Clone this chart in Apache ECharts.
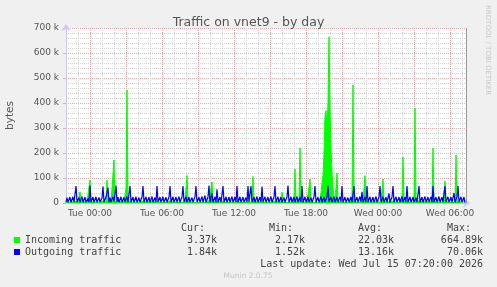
<!DOCTYPE html>
<html><head><meta charset="utf-8">
<script src="https://cdn.jsdelivr.net/npm/echarts@6/dist/echarts.min.js"></script>
<style>html,body{margin:0;padding:0;background:#f0f0f0}#c{width:497px;height:287px}</style>
</head><body><div id="c"></div>
<script>
// time axis: hours relative to Tue 00:00, one sample every 5 minutes starting Mon 22:00
const startHour = -2;
const endHour = 31 + 1/3;          // Wed 07:20 (last update)
const samplesPerHour = 12;
const xLabelHours = [0, 6, 12, 18, 24, 30];
const xLabels = ['Tue 00:00', 'Tue 06:00', 'Tue 12:00', 'Tue 18:00', 'Wed 00:00', 'Wed 06:00'];
const yMaxK = 700;
const seriesNames = ['Incoming traffic', 'Outgoing traffic'];
const statHeaders = ['Cur:', 'Min:', 'Avg:', 'Max:'];
const incomingStats = ['3.37k', '2.17k', '22.03k', '664.89k'];
const outgoingStats = ['1.84k', '1.52k', '13.16k', '70.06k'];
const lastUpdate = 'Last update: Wed Jul 15 07:20:00 2026';

// values in k (thousands of bytes), one per 5-minute sample
const incomingK = [
3,4,3,3,5,3,4,3,3,6,8,3,4,3,45,4,3,3,5,3,
4,3,3,5,92,4,3,3,4,3,5,3,3,4,3,3,5,8,3,4,
3,92,6,3,4,3,3,5,172,6,3,3,4,3,3,5,3,4,3,3,
60,452,8,3,5,3,4,3,3,4,3,3,5,3,3,4,3,8,3,3,
4,3,3,5,3,3,4,3,3,5,3,8,3,4,3,3,5,3,3,4,
3,3,5,3,8,3,4,3,3,5,3,3,4,3,3,5,3,8,3,4,
12,110,6,3,4,3,3,5,3,3,8,3,4,3,3,5,3,3,4,3,
3,5,3,8,3,4,84,6,3,3,5,3,3,4,3,3,5,8,3,3,
4,3,3,5,3,3,4,3,3,5,3,8,3,4,3,3,5,3,3,4,
3,3,8,3,4,8,3,106,6,3,3,5,3,3,4,3,8,3,3,5,
3,3,4,3,3,5,3,3,4,8,3,3,5,3,3,4,44,3,3,5,
3,3,8,3,4,3,3,5,20,136,6,3,4,3,220,8,10,3,3,4,
3,5,3,3,96,6,3,4,3,8,3,3,5,3,3,40,80,110,200,350,
370,300,400,665,380,220,120,60,20,5,3,120,6,3,4,3,8,3,3,5,
3,3,4,3,3,5,20,472,8,3,4,3,3,5,3,3,4,3,3,110,
6,8,3,4,3,3,5,3,3,4,3,3,5,3,8,3,3,96,5,3,
3,4,3,3,5,3,3,8,3,4,3,3,5,3,3,4,20,184,6,3,
3,8,3,4,3,3,5,3,30,380,10,3,4,8,3,3,5,3,3,4,
3,3,5,3,3,4,20,220,8,3,4,3,3,5,3,3,4,3,3,88,
6,3,4,3,3,5,3,3,4,3,192,8,8,3,4,3,3,5,3,3.37
];
const outgoingK = [
3,22,3,5,24,3,4,25,3,5,68,4,3,22,3,5,26,3,4,24,
3,3,18,4,70,3,5,24,3,4,25,3,3,22,4,3,20,66,4,3,
24,30,62,3,22,4,3,25,5,3,70,4,24,3,4,25,3,3,23,4,
3,26,3,5,68,3,4,24,3,5,25,3,4,22,3,3,24,68,4,3,
25,3,4,24,3,5,26,3,4,22,3,68,4,3,24,3,5,25,3,4,
23,3,4,24,68,3,4,25,3,5,24,3,4,26,3,3,24,68,4,3,
25,3,5,24,3,4,22,3,3,25,68,4,3,24,3,5,26,3,4,30,
3,4,24,70,3,5,40,3,4,25,3,55,3,5,24,3,4,68,3,4,
25,3,5,24,3,4,26,3,3,24,4,68,3,5,25,3,4,24,3,5,
22,3,68,4,3,68,4,3,24,3,5,26,3,4,24,3,66,4,3,25,
3,5,24,3,4,26,3,3,24,68,4,3,25,3,5,24,3,4,22,3,
3,24,70,3,4,25,3,5,24,3,4,26,3,3,24,4,68,3,5,25,
3,4,24,3,5,22,3,4,25,68,3,4,24,3,5,26,3,4,24,3,
3,25,70,4,3,24,3,5,26,3,4,24,3,3,25,4,68,3,5,24,
3,4,22,3,5,25,3,4,68,3,5,24,3,4,26,3,45,3,4,24,
3,68,4,3,25,3,5,24,3,4,26,3,3,24,68,4,3,25,3,5,
24,3,4,38,3,3,24,68,4,3,25,3,5,24,3,4,26,3,3,24,
4,68,3,5,25,3,4,24,3,5,22,3,4,68,3,5,24,3,4,26,
3,3,24,4,3,25,3,68,4,3,24,3,5,26,3,4,24,3,3,68,
4,3,25,3,5,24,3,4,40,3,3,24,68,4,3,25,3,5,24,1.84
];

const GREEN = '#00ff00', BLUE = '#0000ff';
const GRID = '#d2d2d2', MGRID = '#eeaaaa', AXIS = '#c8c8ff';
const SANS = '"DejaVu Sans", sans-serif', MONO = '"DejaVu Sans Mono", monospace';

const toPairs = arr => arr.map((v, i) => [startHour + i / samplesPerHour, v]);

const chart = echarts.init(document.getElementById('c'), null, {renderer: 'canvas'});

const statCols = [181, 269, 358, 447];
const valRight = [217, 305, 394, 483];
const graphic = [];
statHeaders.forEach((h, k) => graphic.push({type: 'text', x: statCols[k], y: 228,
  style: {text: h, font: '10px ' + MONO, fill: '#444', align: 'left', verticalAlign: 'middle'}}));
[incomingStats, outgoingStats].forEach((row, r) => row.forEach((s, k) => graphic.push({
  type: 'text', x: valRight[k], y: 240 + r * 12,
  style: {text: s, font: '10px ' + MONO, fill: '#444', align: 'right', verticalAlign: 'middle'}})));
graphic.push({type: 'text', x: 483, y: 264, style: {text: lastUpdate, font: '10px ' + MONO, fill: '#444', align: 'right', verticalAlign: 'middle'}});
graphic.push({type: 'text', x: 248, y: 276, style: {text: 'Munin 2.0.75', font: '7.5px ' + SANS, fill: '#c4c4c4', align: 'center', verticalAlign: 'middle'}});
graphic.push({type: 'text', x: 488, y: 5, rotation: -Math.PI / 2,
  style: {text: 'RRDTOOL / TOBI OETIKER', font: '7px ' + SANS, fill: '#c8c8c8', align: 'left', verticalAlign: 'middle'}});

chart.setOption({
  animation: false,
  backgroundColor: '#f0f0f0',
  title: {text: 'Traffic on vnet9 - by day', left: 'center', top: 11,
    textStyle: {fontFamily: SANS, fontSize: 12.5, fontWeight: 'normal', color: '#555'}},
  grid: {left: 66, right: 31, top: 28, bottom: 84, show: true, backgroundColor: '#ffffff', borderWidth: 0,
    containLabel: false, outerBoundsMode: 'none'},
  legend: {left: 14, top: 234, orient: 'vertical', itemWidth: 6, itemHeight: 6, itemGap: 0, icon: 'rect', padding: 0,
    data: seriesNames, selectedMode: false,
    textStyle: {fontFamily: MONO, fontSize: 10, color: '#444', lineHeight: 12}},
  xAxis: {
    type: 'value', min: startHour, max: endHour, interval: 1,
    axisLine: {show: true, onZero: false, lineStyle: {color: AXIS}, symbol: ['none', 'arrow'], symbolSize: [7, 7], symbolOffset: [0, 4]},
    axisTick: {show: false},
    axisLabel: {margin: 6, fontFamily: SANS, fontSize: 9, color: '#555', hideOverlap: false,
      formatter: v => { const k = xLabelHours.indexOf(Math.round(v * 1000) / 1000); return k >= 0 ? xLabels[k] : ''; }},
    splitLine: {show: true, showMinLine: true, lineStyle: {type: 'dotted', width: 1, color: [GRID, GRID, MGRID]}}
  },
  yAxis: {
    type: 'value', min: 0, max: yMaxK, interval: 100,
    name: 'bytes', nameLocation: 'middle', nameGap: 50, nameRotate: 90,
    nameTextStyle: {fontFamily: SANS, fontSize: 10.5, color: '#555'},
    axisLine: {show: true, onZero: false, lineStyle: {color: AXIS}, symbol: ['none', 'arrow'], symbolSize: [7, 7], symbolOffset: [0, 4]},
    axisTick: {show: true, length: 3, lineStyle: {color: MGRID}},
    axisLabel: {margin: 7, fontFamily: SANS, fontSize: 9, color: '#555', formatter: v => v === 0 ? '0' : v + ' k'},
    splitLine: {show: true, lineStyle: {type: 'dotted', width: 1, color: MGRID}},
    minorTick: {show: false, splitNumber: 5},
    minorSplitLine: {show: true, lineStyle: {type: 'dotted', width: 1, color: GRID}}
  },
  series: [
    {name: seriesNames[0], type: 'line', data: toPairs(incomingK), symbol: 'none', silent: true,
      itemStyle: {color: GREEN}, lineStyle: {color: GREEN, width: 1}, areaStyle: {color: GREEN, opacity: 1}, z: 2},
    {name: seriesNames[1], type: 'line', data: toPairs(outgoingK), symbol: 'none', silent: true,
      itemStyle: {color: BLUE}, lineStyle: {color: BLUE, width: 1.2}, z: 3,
      markLine: {silent: true, symbol: 'none', label: {show: false}, lineStyle: {color: '#999', type: 'solid', width: 1},
        data: [{xAxis: endHour}]}}
  ],
  graphic: graphic
});
</script></body></html>
